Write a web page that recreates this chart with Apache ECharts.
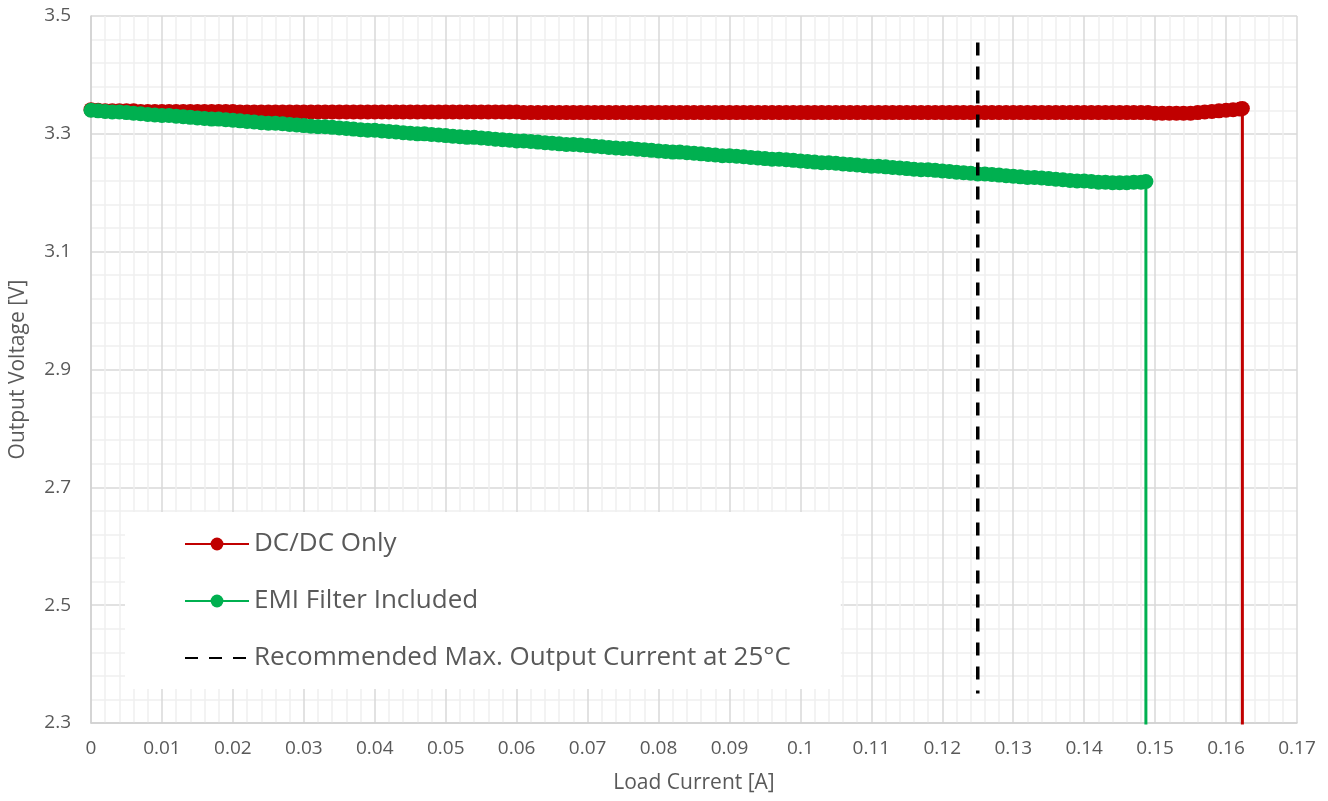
<!DOCTYPE html>
<html>
<head>
    <meta charset="utf-8" />
    <title>Output Voltage vs Load Current</title>
    <script src="https://cdn.jsdelivr.net/npm/echarts@6/dist/echarts.min.js"></script>
    <style>
        html, body { margin: 0; padding: 0; background: #fff; }
    </style>
</head>
<body>
    <div id="main" style="width:1328px;height:801px;"></div>
    <script type="text/javascript">
        // load current samples [A]
        var currentA = [
            0, 0.001, 0.002, 0.003, 0.004, 0.005, 0.006, 0.007, 0.008, 0.009,
            0.010, 0.011, 0.012, 0.013, 0.014, 0.015, 0.016, 0.017, 0.018, 0.019,
            0.020, 0.021, 0.022, 0.023, 0.024, 0.025, 0.026, 0.027, 0.028, 0.029,
            0.030, 0.031, 0.032, 0.033, 0.034, 0.035, 0.036, 0.037, 0.038, 0.039,
            0.040, 0.041, 0.042, 0.043, 0.044, 0.045, 0.046, 0.047, 0.048, 0.049,
            0.050, 0.051, 0.052, 0.053, 0.054, 0.055, 0.056, 0.057, 0.058, 0.059,
            0.060, 0.061, 0.062, 0.063, 0.064, 0.065, 0.066, 0.067, 0.068, 0.069,
            0.070, 0.071, 0.072, 0.073, 0.074, 0.075, 0.076, 0.077, 0.078, 0.079,
            0.080, 0.081, 0.082, 0.083, 0.084, 0.085, 0.086, 0.087, 0.088, 0.089,
            0.090, 0.091, 0.092, 0.093, 0.094, 0.095, 0.096, 0.097, 0.098, 0.099,
            0.100, 0.101, 0.102, 0.103, 0.104, 0.105, 0.106, 0.107, 0.108, 0.109,
            0.110, 0.111, 0.112, 0.113, 0.114, 0.115, 0.116, 0.117, 0.118, 0.119,
            0.120, 0.121, 0.122, 0.123, 0.124, 0.125, 0.126, 0.127, 0.128, 0.129,
            0.130, 0.131, 0.132, 0.133, 0.134, 0.135, 0.136, 0.137, 0.138, 0.139,
            0.140, 0.141, 0.142, 0.143, 0.144, 0.145, 0.146, 0.147, 0.148, 0.149,
            0.150, 0.151, 0.152, 0.153, 0.154, 0.155, 0.156, 0.157, 0.158, 0.159,
            0.160, 0.161, 0.162
        ];

        // DC/DC only output voltage [V], one per currentA entry
        var dcdcOnlyV = [
            3.341, 3.340, 3.339, 3.339, 3.339, 3.339, 3.339, 3.338, 3.338, 3.338,
            3.338, 3.338, 3.338, 3.338, 3.338, 3.338, 3.338, 3.338, 3.338, 3.338,
            3.338, 3.337, 3.337, 3.337, 3.337, 3.337, 3.337, 3.337, 3.337, 3.337,
            3.337, 3.337, 3.337, 3.337, 3.337, 3.337, 3.337, 3.337, 3.337, 3.337,
            3.337, 3.337, 3.337, 3.337, 3.337, 3.337, 3.337, 3.337, 3.337, 3.337,
            3.337, 3.337, 3.337, 3.337, 3.337, 3.337, 3.337, 3.337, 3.337, 3.337,
            3.337, 3.336, 3.336, 3.336, 3.336, 3.336, 3.336, 3.336, 3.336, 3.336,
            3.336, 3.336, 3.336, 3.336, 3.336, 3.336, 3.336, 3.336, 3.336, 3.336,
            3.336, 3.336, 3.336, 3.336, 3.336, 3.336, 3.336, 3.336, 3.336, 3.336,
            3.336, 3.336, 3.336, 3.336, 3.336, 3.336, 3.336, 3.336, 3.336, 3.336,
            3.336, 3.336, 3.336, 3.336, 3.336, 3.336, 3.336, 3.336, 3.336, 3.336,
            3.336, 3.336, 3.336, 3.336, 3.336, 3.336, 3.336, 3.336, 3.336, 3.336,
            3.336, 3.336, 3.336, 3.336, 3.336, 3.336, 3.336, 3.336, 3.336, 3.336,
            3.336, 3.336, 3.336, 3.336, 3.336, 3.336, 3.336, 3.336, 3.336, 3.336,
            3.336, 3.336, 3.336, 3.336, 3.336, 3.336, 3.336, 3.336, 3.336, 3.336,
            3.335, 3.335, 3.335, 3.335, 3.335, 3.335, 3.336, 3.337, 3.338, 3.339,
            3.340, 3.341, 3.342
        ];

        // with EMI filter output voltage [V], first 149 currentA entries
        var emiFilterV = [
            3.340, 3.339, 3.338, 3.337, 3.337, 3.336, 3.335, 3.334, 3.333, 3.332,
            3.331, 3.331, 3.330, 3.329, 3.328, 3.327, 3.326, 3.325, 3.325, 3.324,
            3.323, 3.322, 3.321, 3.320, 3.319, 3.318, 3.318, 3.317, 3.316, 3.315,
            3.314, 3.313, 3.312, 3.312, 3.311, 3.310, 3.309, 3.308, 3.307, 3.306,
            3.306, 3.305, 3.304, 3.303, 3.302, 3.301, 3.300, 3.300, 3.299, 3.298,
            3.297, 3.296, 3.295, 3.294, 3.294, 3.293, 3.292, 3.291, 3.290, 3.289,
            3.288, 3.288, 3.287, 3.286, 3.285, 3.284, 3.283, 3.282, 3.282, 3.281,
            3.280, 3.279, 3.278, 3.277, 3.276, 3.275, 3.275, 3.274, 3.273, 3.272,
            3.271, 3.270, 3.269, 3.269, 3.268, 3.267, 3.266, 3.265, 3.264, 3.263,
            3.263, 3.262, 3.261, 3.260, 3.259, 3.258, 3.257, 3.257, 3.256, 3.255,
            3.254, 3.253, 3.252, 3.251, 3.251, 3.250, 3.249, 3.248, 3.247, 3.246,
            3.245, 3.245, 3.244, 3.243, 3.242, 3.241, 3.240, 3.239, 3.239, 3.238,
            3.237, 3.236, 3.235, 3.234, 3.233, 3.232, 3.232, 3.231, 3.230, 3.229,
            3.228, 3.227, 3.226, 3.226, 3.225, 3.224, 3.223, 3.222, 3.221, 3.220,
            3.220, 3.219, 3.218, 3.218, 3.217, 3.217, 3.217, 3.218, 3.218
        ];

        // where each curve collapses (last reading, then off the bottom)
        var dcdcCutoffA = 0.1623;
        var dcdcCutoffV = [3.343, 2.0];
        var emiCutoffA = 0.1487;
        var emiCutoffV = [3.219, 2.0];

        // recommended max output current marker
        var limitA = 0.125;
        var limitV = [3.455, 2.35];

        var xTicks = { min: 0, max: 0.17, step: 0.01 };
        var yTicks = { min: 2.3, max: 3.5, step: 0.2 };

        var seriesNames = ['DC/DC Only', 'EMI Filter Included', 'Recommended Max. Output Current at 25°C'];

        var FONT = '"Open Sans", "Liberation Sans", sans-serif';
        var TEXT_COLOR = '#595959';

        function pairs(xs, ys) {
            var out = [];
            for (var i = 0; i < ys.length; i++) out.push([xs[i], ys[i]]);
            return out;
        }

        var dcdcData = pairs(currentA, dcdcOnlyV);
        dcdcData.push([dcdcCutoffA, dcdcCutoffV[0]], [dcdcCutoffA, dcdcCutoffV[1]]);

        var emiData = pairs(currentA, emiFilterV);
        emiData.push([emiCutoffA, emiCutoffV[0]], [emiCutoffA, emiCutoffV[1]]);

        var limitData = [[limitA, limitV[0]], [limitA, limitV[1]]];

        var myChart = echarts.init(document.getElementById('main'));
        myChart.setOption({
            animation: false,
            backgroundColor: '#fff',
            textStyle: { fontFamily: FONT },
            grid: { left: 88, right: 31, top: 16, bottom: 78 },
            legend: {
                orient: 'vertical',
                left: 125,
                top: 512,
                backgroundColor: '#fff',
                padding: [19, 50, 18, 59],
                itemWidth: 64,
                itemHeight: 16,
                itemGap: 31,
                textStyle: { fontSize: 26, color: TEXT_COLOR, fontFamily: FONT, padding: [0, 0, 0, 0] },
                data: seriesNames
            },
            xAxis: {
                type: 'value',
                min: xTicks.min,
                max: xTicks.max,
                interval: xTicks.step,
                name: 'Load Current [A]',
                nameLocation: 'middle',
                nameGap: 50,
                nameTextStyle: { fontSize: 21, color: TEXT_COLOR, fontFamily: FONT },
                axisLine: { show: true, lineStyle: { color: '#d0d0d0', width: 1.5 } },
                axisTick: { show: false },
                minorTick: { show: false, splitNumber: 5 },
                axisLabel: { fontSize: 19, color: TEXT_COLOR, margin: 16, fontFamily: FONT },
                splitLine: { show: true, lineStyle: { color: '#d9d9d9', width: 1.5 } },
                minorSplitLine: { show: true, lineStyle: { color: '#f0f0f0', width: 1.5 } }
            },
            yAxis: {
                type: 'value',
                min: yTicks.min,
                max: yTicks.max,
                interval: yTicks.step,
                name: 'Output Voltage [V]',
                nameLocation: 'middle',
                nameGap: 62,
                nameTextStyle: { fontSize: 21, color: TEXT_COLOR, fontFamily: FONT },
                axisLine: { show: true, lineStyle: { color: '#d0d0d0', width: 1.5 } },
                axisTick: { show: false },
                minorTick: { show: false, splitNumber: 5 },
                axisLabel: { fontSize: 19, color: TEXT_COLOR, margin: 20, fontFamily: FONT },
                splitLine: { show: true, lineStyle: { color: '#d9d9d9', width: 1.5 } },
                minorSplitLine: { show: true, lineStyle: { color: '#f0f0f0', width: 1.5 } }
            },
            series: [
                {
                    name: seriesNames[0],
                    type: 'line',
                    data: dcdcData,
                    symbol: 'circle',
                    symbolSize: 15,
                    color: '#C00000',
                    lineStyle: { color: '#C00000', width: 3 },
                    itemStyle: { color: '#C00000' },
                    clip: true,
                    z: 2
                },
                {
                    name: seriesNames[1],
                    type: 'line',
                    data: emiData,
                    symbol: 'circle',
                    symbolSize: 15,
                    color: '#00B050',
                    lineStyle: { color: '#00B050', width: 3 },
                    itemStyle: { color: '#00B050' },
                    clip: true,
                    z: 3
                },
                {
                    name: seriesNames[2],
                    type: 'line',
                    data: limitData,
                    symbol: 'none',
                    color: '#000',
                    lineStyle: { color: '#000', width: 3.5, type: [13, 11] },
                    itemStyle: { color: '#000', opacity: 0 },
                    z: 4
                }
            ]
        });
    </script>
</body>
</html>
